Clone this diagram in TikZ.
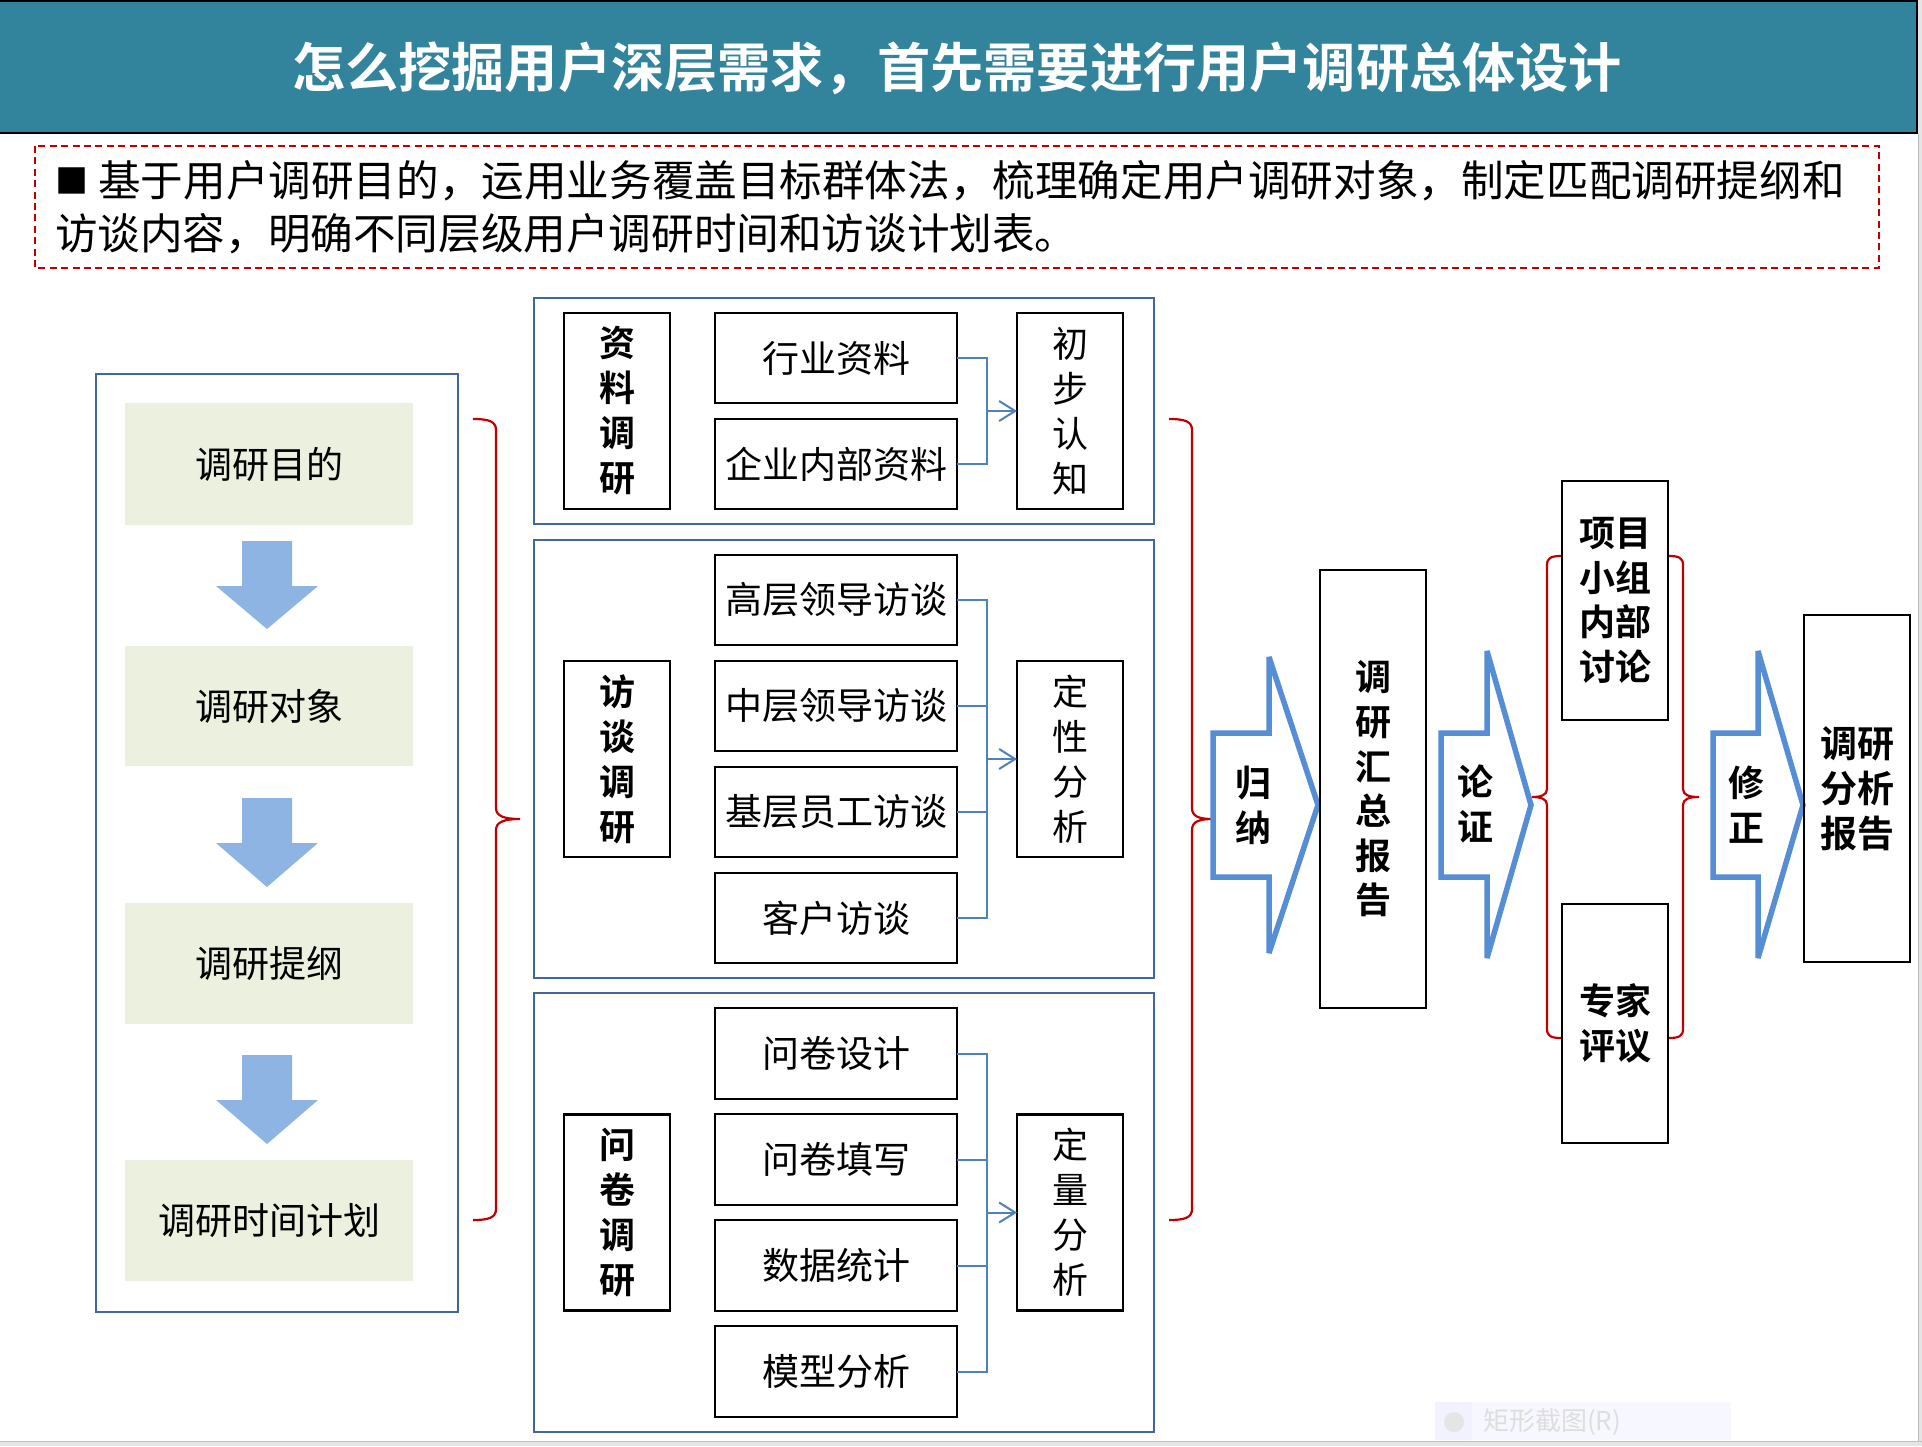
\documentclass[tikz,border=0pt]{standalone}
\usepackage{fontspec}
\setmainfont{Noto Sans CJK SC}[BoldFont={Noto Sans CJK SC Bold}]
\usetikzlibrary{arrows.meta}
\definecolor{titlebg}{HTML}{31849B}
\definecolor{gfill}{HTML}{EBF1DE}
\definecolor{panelblue}{HTML}{41679E}
\definecolor{connblue}{HTML}{4F81BD}
\definecolor{dnblue}{HTML}{8EB4E3}
\definecolor{blkarrow}{HTML}{558ED5}
\definecolor{bracered}{HTML}{C00000}
\begin{document}
\begin{tikzpicture}[x=0.5pt,y=-0.5pt,
  every node/.style={inner sep=0pt, outer sep=0pt},
  panel/.style={draw=panelblue, line width=0.7pt, minimum width=310pt},
  gbox/.style={fill=gfill, minimum width=144pt, font=\fontsize{18.5}{22}\selectfont},
  item/.style={draw=black, line width=1.2pt, minimum width=121pt, minimum height=45.25pt, font=\fontsize{18.5}{22}\selectfont},
  lbl/.style={draw=black, line width=1.2pt, minimum width=53pt, minimum height=98pt, align=center, font=\fontsize{18}{22.5}\selectfont},
  rbox/.style={draw=black, line width=1.1pt, minimum width=53pt, align=center, font=\bfseries\fontsize{18}{22.3}\selectfont},
  conn/.style={draw=connblue, line width=1pt},
  connarrow/.style={conn, -{Straight Barb[length=8pt,width=10pt]}},
  dnarrow/.style={fill=dnblue},
  blockarrow/.style={draw=blkarrow, fill=white, line width=2.75pt, line join=miter, miter limit=3.3},
  brace/.style={draw=bracered, line width=1.1pt},
  atext/.style={align=center, font=\bfseries\fontsize{18}{22.5}\selectfont}
]
\useasboundingbox (0,0) rectangle (1922,1446);
\fill[white] (0,0) rectangle (1922,1446);
% window chrome
\fill[black!10] (1918,0) rectangle (1922,1446);
\draw[black!28, line width=0.5pt] (1918.5,134) -- (1918.5,1446);
\fill[black!10] (0,1441) rectangle (1922,1446);
\draw[black!25, line width=0.8pt] (0,1441.5) -- (1922,1441.5);
% title bar
\draw[fill=titlebg, draw=black, line width=1.3pt] (-4,1) rectangle (1917,133);
\node[text=white, font=\bfseries\fontsize{26.6}{29}\selectfont] (title) at (957,68) {怎么挖掘用户深层需求，首先需要进行用户调研总体设计};
% description
\draw[bracered, line width=1pt, dash pattern=on 3.5pt off 2.2pt] (35,146) rectangle (1879,268);
\node[anchor=base west, font=\fontsize{21.3}{26}\selectfont] (desc1) at (55,196) {\makebox[21.6pt][l]{\raisebox{1.3pt}{\fontsize{16.5}{17}\selectfont ■}}基于用户调研目的，运用业务覆盖目标群体法，梳理确定用户调研对象，制定匹配调研提纲和};
\node[anchor=base west, font=\fontsize{21.3}{26}\selectfont] (desc2) at (55,249) {访谈内容，明确不同层级用户调研时间和访谈计划表。};
% left panel
\node[draw=panelblue, line width=0.7pt, minimum width=181pt, minimum height=469pt] (lp) at (277,843) {};
\node[gbox, minimum height=61pt] (g1) at (269,464) {调研目的};
\node[gbox, minimum height=60pt] (g2) at (269,706) {调研对象};
\node[gbox, minimum height=60.5pt] (g3) at (269,963.5) {调研提纲};
\node[gbox, minimum height=60.5pt] (g4) at (269,1220.5) {调研时间计划};
\fill[dnarrow] (242,541) -- (292,541) -- (292,586) -- (318,586) -- (267,629) -- (216,586) -- (242,586) -- cycle;
\fill[dnarrow] (242,798) -- (292,798) -- (292,843) -- (318,843) -- (267,887) -- (216,843) -- (242,843) -- cycle;
\fill[dnarrow] (242,1055) -- (292,1055) -- (292,1100) -- (318,1100) -- (267,1144) -- (216,1100) -- (242,1100) -- cycle;
% left brace
\draw[brace] (473,419) .. controls (488,419) and (496,421) .. (496,430) -- (496,808) .. controls (496,816) and (504,819) .. (520,819) .. controls (504,819) and (496,822) .. (496,830) -- (496,1209) .. controls (496,1218) and (488,1220) .. (473,1220);
% panels
\node[panel, minimum height=113pt] (pA) at (844,411) {};
\node[panel, minimum height=219pt] (pB) at (844,759) {};
\node[panel, minimum height=219.5pt] (pC) at (844,1212.5) {};
% panel A
\node[lbl, font=\bfseries\fontsize{18}{22.5}\selectfont] (zl) at (617,411) {资\\料\\调\\研};
\node[item] (hy) at (836,358) {行业资料};
\node[item] (qy) at (836,464) {企业内部资料};
\node[lbl] (cb) at (1070,411) {初\\步\\认\\知};
\coordinate (bus) at (987,0);
\draw[conn] (hy.east) -- (hy.east -| bus) -- (qy.east -| bus) -- (qy.east);
\draw[connarrow] (cb.west -| bus) -- (cb.west);
% panel B
\node[item] (gc) at (836,600) {高层领导访谈};
\node[item] (zc) at (836,706) {中层领导访谈};
\node[item] (jc) at (836,812) {基层员工访谈};
\node[item] (kh) at (836,918) {客户访谈};
\node[lbl, font=\bfseries\fontsize{18}{22.5}\selectfont] (ft) at (617,759) {访\\谈\\调\\研};
\node[lbl] (dx) at (1070,759) {定\\性\\分\\析};
\draw[conn] (gc.east) -- (gc.east -| bus) -- (kh.east -| bus) -- (kh.east);
\draw[conn] (zc.east) -- (zc.east -| bus);
\draw[conn] (jc.east) -- (jc.east -| bus);
\draw[connarrow] (dx.west -| bus) -- (dx.west);
% panel C
\node[item] (wj1) at (836,1053.5) {问卷设计};
\node[item] (wj2) at (836,1159.5) {问卷填写};
\node[item] (sj) at (836,1265.5) {数据统计};
\node[item] (mx) at (836,1371.5) {模型分析};
\node[lbl, font=\bfseries\fontsize{18}{22.5}\selectfont] (wd) at (617,1212.5) {问\\卷\\调\\研};
\node[lbl] (dl) at (1070,1212.5) {定\\量\\分\\析};
\draw[conn] (wj1.east) -- (wj1.east -| bus) -- (mx.east -| bus) -- (mx.east);
\draw[conn] (wj2.east) -- (wj2.east -| bus);
\draw[conn] (sj.east) -- (sj.east -| bus);
\draw[connarrow] (dl.west -| bus) -- (dl.west);
% middle brace
\draw[brace] (1169,419) .. controls (1184,419) and (1192,421) .. (1192,430) -- (1192,808) .. controls (1192,816) and (1198,819) .. (1213,819) .. controls (1198,819) and (1192,822) .. (1192,830) -- (1192,1209) .. controls (1192,1218) and (1184,1220) .. (1169,1220);
% block arrow 1
\draw[blockarrow] (1213,733) -- (1269,733) -- (1269,657) -- (1318,805) -- (1269,953) -- (1269,877) -- (1213,877) -- cycle;
\node[atext] (gn) at (1253,805) {归\\纳};
\node[rbox, minimum height=219pt] (hz) at (1373,789) {调\\研\\汇\\总\\报\\告};
% block arrow 2
\draw[blockarrow] (1441,733) -- (1487,733) -- (1487,651) -- (1531,805) -- (1487,958) -- (1487,877) -- (1441,877) -- cycle;
\node[atext] (lz) at (1475,804) {论\\证};
% right braces
\draw[brace] (1561,556) .. controls (1551,556) and (1547,558) .. (1547,565) -- (1547,789) .. controls (1547,795) and (1541,797) .. (1532,797) .. controls (1541,797) and (1547,799) .. (1547,805) -- (1547,1029) .. controls (1547,1036) and (1551,1038) .. (1561,1038);
\draw[brace] (1669,556) .. controls (1679,556) and (1683,558) .. (1683,565) -- (1683,789) .. controls (1683,795) and (1689,797) .. (1699,797) .. controls (1689,797) and (1683,799) .. (1683,805) -- (1683,1029) .. controls (1683,1036) and (1679,1038) .. (1669,1038);
\node[rbox, minimum height=119.5pt] (xm) at (1615,600.5) {项目\\小组\\内部\\讨论};
\node[rbox, minimum height=119.5pt] (zj) at (1615,1023.5) {专家\\评议};
% block arrow 3
\draw[blockarrow] (1713,733) -- (1758,733) -- (1758,651) -- (1803,805) -- (1758,958) -- (1758,877) -- (1713,877) -- cycle;
\node[atext] (xz) at (1746,805) {修\\正};
\node[rbox, minimum height=173.5pt, font=\bfseries\fontsize{18.5}{22.5}\selectfont] (dy) at (1857,788.5) {调研\\分析\\报告};
% faint screenshot-tool overlay
\fill[blue!3] (1435,1402) rectangle (1731,1440);
\fill[blue!5] (1435,1402) rectangle (1472,1440);
\fill[black!10] (1454,1422) circle (5pt);
\node[anchor=west, text=black!13, font=\fontsize{13}{15}\selectfont] (ov) at (1483,1422) {矩形截图(R)};
\end{tikzpicture}
\end{document}
